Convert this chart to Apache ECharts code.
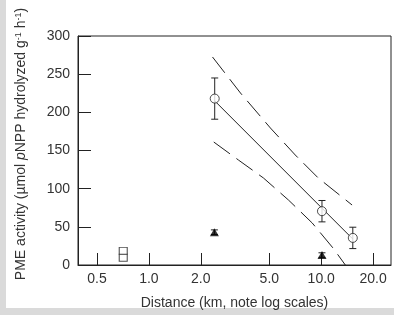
<!DOCTYPE html>
<html>
<head>
<meta charset="utf-8">
<script src="https://cdn.jsdelivr.net/npm/echarts@6/dist/echarts.min.js"></script>
<style>
  html, body { margin: 0; padding: 0; background: #fff; }
  #chart { width: 394px; height: 315px; }
</style>
</head>
<body>
<div id="chart"></div>
<script>
// distance (km) and PME activity
const circleX = [2.41, 10.1, 15.25];
const circleY = [218, 70.5, 35.5];
const circleErr = [27, 14, 14];

const triX = [2.4, 10.1];
const triY = [43, 13];
const triErr = [3, 3];

const squareX = [0.71, 0.71];
const squareY = [18.5, 9.5];

// regression line and its confidence band
const fitX = [2.41, 15.25];
const fitY = [215, 34];
const upperX = [2.34, 3.4, 5.07, 7.07, 9.61, 15.1];
const upperY = [272.5, 225.3, 179.5, 144.1, 114, 78.6];
const lowerX = [2.38, 3.31, 4.62, 6.45, 8.87, 11.7, 13.8];
const lowerY = [161.1, 137.5, 114, 85.2, 55, 22.3, 0];

const xTicks = [0.5, 1, 2, 5, 10, 20];
const yTicks = [0, 50, 100, 150, 200, 250, 300];

// x axis is log scale: plot in log10 space
const lg = (v) => Math.log10(v);
const pts = (xs, ys) => xs.map((x, i) => [lg(x), ys[i]]);
const errPts = (xs, ys, es) => xs.map((x, i) => [lg(x), ys[i] - es[i], ys[i] + es[i]]);

const ink = "#222";
const font = "'Liberation Sans', Arial, sans-serif";

// error bars with caps
const errorBar = (params, api) => {
  const lo = api.coord([api.value(0), api.value(1)]);
  const hi = api.coord([api.value(0), api.value(2)]);
  const w = 3.5;
  const style = { stroke: ink, lineWidth: 1 };
  return {
    type: "group",
    children: [
      { type: "line", shape: { x1: lo[0], y1: lo[1], x2: hi[0], y2: hi[1] }, style },
      { type: "line", shape: { x1: lo[0] - w, y1: lo[1], x2: lo[0] + w, y2: lo[1] }, style },
      { type: "line", shape: { x1: hi[0] - w, y1: hi[1], x2: hi[0] + w, y2: hi[1] }, style },
    ],
  };
};

const chart = echarts.init(document.getElementById("chart"), null, { renderer: "canvas" });

chart.setOption({
  animation: false,
  backgroundColor: "#fff",
  textStyle: { fontFamily: font },
  grid: {
    left: 78, right: 3, top: 36, bottom: 50,
    show: true, borderColor: ink, borderWidth: 1, backgroundColor: "#fff",
  },
  graphic: [
    { type: "rect", left: 0, top: 0, shape: { width: 6, height: 315 }, style: { fill: "#dadada" }, silent: true },
    { type: "rect", left: 0, top: 308, shape: { width: 394, height: 7 }, style: { fill: "#dadada" }, silent: true },
    {
      type: "text",
      x: 21, y: 144,
      rotation: Math.PI / 2,
      style: {
        text: "PME activity (µmol {it|p}NPP hydrolyzed g{sup|-1} h{sup|-1})",
        font: "14px " + font,
        fill: "#333",
        align: "center",
        verticalAlign: "middle",
        rich: {
          it: { fontStyle: "italic", fontSize: 14, fontFamily: font, fill: "#333" },
          sup: { fontSize: 9, fontFamily: font, fill: "#333", verticalAlign: "top", lineHeight: 14 },
        },
      },
    },
  ],
  xAxis: {
    type: "value",
    min: lg(0.388),
    max: lg(25.4),
    name: "Distance (km, note log scales)",
    nameLocation: "middle",
    nameGap: 31,
    nameTextStyle: { fontSize: 14, color: "#333", fontFamily: font },
    axisLine: { show: true, onZero: false, lineStyle: { color: ink, width: 1 } },
    splitLine: { show: false },
    axisTick: {
      show: true, inside: true, length: 12,
      customValues: xTicks.map(lg),
      lineStyle: { color: ink, width: 1 },
    },
    axisLabel: {
      customValues: xTicks.map(lg),
      margin: 7,
      fontSize: 14,
      color: "#333",
      fontFamily: font,
      formatter: (v) => Math.pow(10, v).toFixed(1),
    },
  },
  yAxis: {
    type: "value",
    min: 0,
    max: 300,
    interval: 50,
    axisLine: { show: true, onZero: false, lineStyle: { color: ink, width: 1 } },
    splitLine: { show: false },
    axisTick: { show: true, inside: true, length: 13, lineStyle: { color: ink, width: 1 } },
    axisLabel: {
      margin: 8, fontSize: 14, color: "#333", fontFamily: font,
      formatter: (v) => (yTicks.includes(v) ? String(v) : ""),
    },
  },
  series: [
    {
      type: "line", data: pts(upperX, upperY), symbol: "none", smooth: false,
      lineStyle: { color: ink, width: 1, type: [20, 8] }, z: 2,
    },
    {
      type: "line", data: pts(lowerX, lowerY), symbol: "none", smooth: false,
      lineStyle: { color: ink, width: 1, type: [20, 8] }, z: 2,
    },
    {
      type: "line", data: pts(fitX, fitY), symbol: "none",
      lineStyle: { color: ink, width: 1 }, z: 2,
    },
    { type: "custom", renderItem: errorBar, data: errPts(circleX, circleY, circleErr), z: 3 },
    { type: "custom", renderItem: errorBar, data: errPts(triX, triY, triErr), z: 3 },
    {
      type: "scatter", data: pts(circleX, circleY), symbol: "circle", symbolSize: 9,
      itemStyle: { color: "#fff", borderColor: ink, borderWidth: 1 }, z: 4,
    },
    {
      type: "scatter", data: pts(triX, triY), symbol: "triangle", symbolSize: [9, 8],
      itemStyle: { color: "#000" }, z: 4,
    },
    {
      type: "scatter", data: pts(squareX, squareY), symbol: "rect", symbolSize: [8, 7],
      itemStyle: { color: "#fff", borderColor: ink, borderWidth: 1 }, z: 4,
    },
  ],
});
</script>
</body>
</html>
